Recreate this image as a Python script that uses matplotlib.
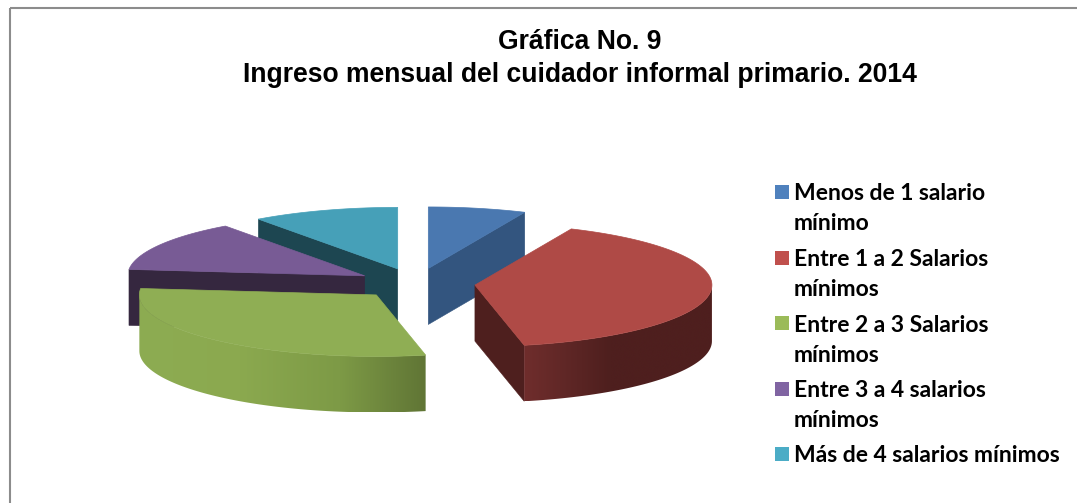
import numpy as np
import matplotlib
matplotlib.use('Agg')
from matplotlib import pyplot as plt
from matplotlib.colors import to_rgb
from matplotlib.patches import Polygon, Rectangle

# respondents per income band
categories = ['Menos de 1 salario\nmínimo', 'Entre 1 a 2 Salarios\nmínimos',
              'Entre 2 a 3 Salarios\nmínimos', 'Entre 3 a 4 salarios\nmínimos',
              'Más de 4 salarios mínimos']
values = [2, 12, 9, 4, 3]

title = 'Gráfica No. 9\nIngreso mensual del cuidador informal primario. 2014'

legend_colors = ['#4f81bd', '#c0504d', '#9bbb59', '#8064a2', '#4bacc6']
top_colors = ['#4a78b0', '#af4a46', '#8fae54', '#785b95', '#46a0b8']
wall_colors = ['#33557f', '#4e1f1e', '#627735', '#35273f', '#1d4651']

# side shading, (x pixel, colour) stops
side_shade = {1: ([525, 560, 610, 712], ['#6f2d2c', '#622827', '#4e1f1e', '#4e1f1e']),
              2: ([140, 240, 340, 426], ['#8dac52', '#8ba94f', '#7d9a46', '#607535'])}

cx, cy = 416, 283.5
rx, ry = 237, 61.5
depth = 56
explode = 0.25
draw_order = [4, 0, 3, 1, 2]


def rim(c, theta):
    t = np.radians(theta)
    return np.column_stack([c[0] + rx*np.sin(t), c[1] - ry*np.cos(t)])


fig = plt.figure(figsize=(10.77, 5.03), dpi=100)
ax = fig.add_axes([0, 0, 1, 1])
ax.set_xlim(0, 1077)
ax.set_ylim(503, 0)
ax.axis('off')

ax.add_patch(Rectangle((10, 8), 1200, 600, fill=False, ec='#8c8c8c', lw=1.5))

angles = np.cumsum([0] + values)/np.sum(values)*360
z = 2

for i in draw_order:
    a0, a1 = angles[i], angles[i+1]
    mid = np.radians((a0 + a1)/2)
    c = (cx + explode*rx*np.sin(mid), cy - explode*ry*np.cos(mid))
    arc = rim(c, np.linspace(a0, a1, 120))
    down = np.array([0, depth])

    # radial walls, only those turned towards the viewer
    walls = []
    if np.sin(np.radians(a0)) < -1e-6:
        walls.append(arc[0])
    if np.sin(np.radians(a1)) > 1e-6:
        walls.append(arc[-1])
    for p in walls:
        wall = [c, p, p + down, np.array(c) + down]
        ax.add_patch(Polygon(wall, fc=wall_colors[i], ec=wall_colors[i], lw=0.4, zorder=z))
        z += 1

    # curved side, only on the front half
    lo, hi = max(a0, 90), min(a1, 270)
    if lo < hi:
        pts = rim(c, np.linspace(lo, hi, 200))
        xs, cols = side_shade[i]
        rgb = np.array([to_rgb(k) for k in cols])
        x0, x1 = pts[:, 0].min(), pts[:, 0].max()
        col_x = np.linspace(x0, x1, 400)
        grad = np.stack([np.interp(col_x, xs, rgb[:, k]) for k in range(3)], axis=-1)[np.newaxis]
        side = Polygon(np.vstack([pts, (pts + down)[::-1]]), fc='none', ec='none', transform=ax.transData)
        ax.add_patch(side)
        im = ax.imshow(grad, extent=(x0, x1, pts[:, 1].max() + depth, pts[:, 1].min()),
                       aspect='auto', interpolation='bilinear', zorder=z)
        im.set_clip_path(side)
        z += 1

    top = np.vstack([[c], arc])
    ax.add_patch(Polygon(top, fc=top_colors[i], ec=top_colors[i], lw=0.5, zorder=z))
    z += 1

ax.set_xlim(0, 1077)
ax.set_ylim(503, 0)

ax.text(580, 58.5, title, ha='center', va='center', fontsize=19.1, fontweight='bold',
        family='Liberation Sans', linespacing=1.38, color='black', zorder=z)

# legend by hand: the swatch sits on the first line of a wrapped label
y = 192
for label, col in zip(categories, legend_colors):
    ax.add_patch(Rectangle((775, y - 7), 14, 14, fc=col, ec='none', zorder=z))
    for line in label.split('\n'):
        ax.text(794, y + 8.5, line, ha='left', va='baseline', fontsize=16.5, fontweight='bold',
                family='Lato', color='black', zorder=z)
        y += 30
    y += 5.5

fig.savefig('out.png', dpi=100)
